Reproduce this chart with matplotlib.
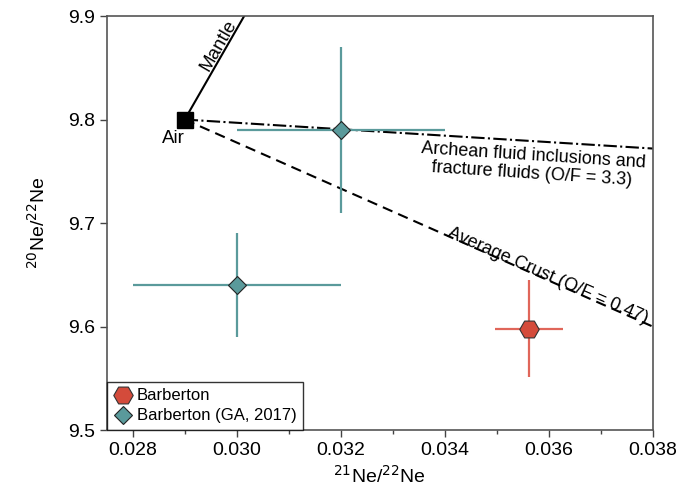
import matplotlib
matplotlib.use("Agg")
import matplotlib.pyplot as plt
from matplotlib.ticker import MultipleLocator

plt.rcParams["font.family"] = ["Liberation Sans", "DejaVu Sans"]

# air end-member and mixing lines
air = (0.029, 9.80)
mantle_x = [0.0290, 0.0302]
mantle_y = [9.80, 9.905]
archean_x = [0.0290, 0.0380]
archean_y = [9.80, 9.772]
crust_x = [0.0290, 0.0380]
crust_y = [9.80, 9.600]

# samples
barb_x = [0.03562]
barb_y = [9.598]
barb_xerr = [0.00066]
barb_yerr = [0.047]

ga_x = [0.032, 0.030]
ga_y = [9.79, 9.64]
ga_xerr = [0.002, 0.002]
ga_yerr = [0.08, 0.05]

red = "#d44b3b"
red_err = "#e0665a"
teal = "#5a9a9b"

fig = plt.figure(figsize=(6.93, 4.86), dpi=100)
ax = fig.add_axes([0.154, 0.115, 0.788, 0.852])

ax.plot(mantle_x, mantle_y, color="black", lw=1.5, zorder=2)
ax.plot(archean_x, archean_y, color="black", lw=1.5, ls="-.", zorder=2)
ax.plot(crust_x, crust_y, color="black", lw=1.5, ls="--", dashes=(5, 3), zorder=2)

ax.errorbar(ga_x, ga_y, xerr=ga_xerr, yerr=ga_yerr, fmt="none", ecolor=teal,
            elinewidth=1.6, capsize=0, zorder=3)
ax.errorbar(barb_x, barb_y, xerr=barb_xerr, yerr=barb_yerr, fmt="none",
            ecolor=red_err, elinewidth=1.6, capsize=0, zorder=3)

ax.plot(barb_x, barb_y, ls="none", marker="H", ms=14, mfc=red, mec="#333333",
        mew=0.8, label="Barberton", zorder=4)
ax.plot(ga_x, ga_y, ls="none", marker="D", ms=9, mfc=teal, mec="#222222",
        mew=0.8, label="Barberton (GA, 2017)", zorder=4)

ax.plot([air[0]], [air[1]], ls="none", marker="s", ms=11, color="black", zorder=5)

ax.text(0.02878, 9.782, "Air", fontsize=13.5, ha="center", va="center")
ax.text(0.02966, 9.872, "Mantle", fontsize=13.5, rotation=60, ha="center", va="center")
ax.text(0.03569, 9.756, "Archean fluid inclusions and\nfracture fluids (O/F = 3.3)",
        fontsize=13, rotation=-3.7, ha="center", va="center", linespacing=1.1)
ax.text(0.03595, 9.6455, "Average Crust (O/F = 0.47)", fontsize=13, rotation=-23.7,
        ha="center", va="baseline", rotation_mode="anchor")

ax.set_xlim(0.0275, 0.038)
ax.set_ylim(9.5, 9.9)
ax.xaxis.set_major_locator(MultipleLocator(0.002))
ax.xaxis.set_minor_locator(MultipleLocator(0.001))
ax.yaxis.set_major_locator(MultipleLocator(0.1))
ax.xaxis.set_major_formatter(matplotlib.ticker.FormatStrFormatter("%.3f"))
ax.yaxis.set_major_formatter(matplotlib.ticker.FormatStrFormatter("%.1f"))
ax.tick_params(axis="both", which="major", direction="out", length=5, width=1,
               labelsize=14, color="#444444")
ax.tick_params(axis="x", which="minor", direction="out", length=3, width=1,
               color="#444444")
for s in ax.spines.values():
    s.set_color("#555555")
    s.set_linewidth(1.2)

ax.set_xlabel(r"$^{21}$Ne/$^{22}$Ne", fontsize=14, labelpad=4)
ax.set_ylabel(r"$^{20}$Ne/$^{22}$Ne", fontsize=14, labelpad=14)

leg = ax.legend(loc="lower left", borderaxespad=0, fontsize=12, frameon=True,
                fancybox=False, handletextpad=0.2, handlelength=1.2,
                borderpad=0.4, labelspacing=0.3)
leg.get_frame().set_edgecolor("black")
leg.get_frame().set_linewidth(1.0)

fig.savefig("out.png", dpi=100)
